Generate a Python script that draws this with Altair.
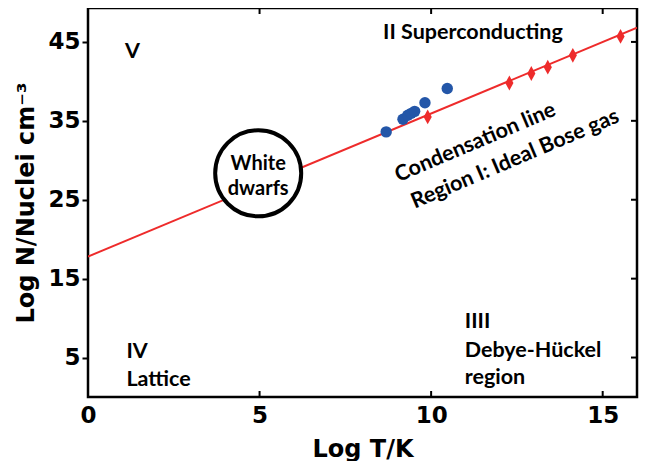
import altair as alt
import pandas as pd

# ---- data ----
line_x = [0.0, 16.0]
line_y = [17.8, 46.8]

diam_x = [9.90, 12.28, 12.92, 13.40, 14.13, 15.52]
diam_y = [35.5, 39.8, 41.0, 41.8, 43.3, 45.7]

dot_x = [8.69, 9.18, 9.32, 9.42, 9.52, 9.82, 10.47]
dot_y = [33.6, 35.2, 35.7, 35.95, 36.2, 37.3, 39.1]

wd_x = [4.96]
wd_y = [28.35]
wd_text = ["White", "dwarfs"]
wd_text_x = [4.96, 4.96]
wd_text_y = [28.8, 25.6]

region_text = ["V", "II Superconducting", "IV", "Lattice", "IIII", "Debye-Hückel", "region"]
region_x = [1.08, 8.60, 1.12, 1.12, 10.98, 10.98, 10.98]
region_y = [42.9, 45.4, 4.94, 1.39, 8.73, 5.06, 1.65]

rot_text = ["Condensation line", "Region I: Ideal Bose gas"]
rot_x = [11.36, 12.52]
rot_y = [31.5, 29.4]

x_ticks = [0, 5, 10, 15]
y_ticks = [5, 15, 25, 35, 45]
inner_x_ticks = [5, 10, 15]

W, H = 549, 389
RED = "#ee2b2b"
BLUE = "#2356a8"
LABEL_FONT = "Lato"
LABEL_SIZE = 21.5

xscale = alt.Scale(domain=[0, 16], nice=False, zero=False)
yscale = alt.Scale(domain=[0, 49.3], nice=False, zero=False)

x_axis = alt.Axis(
    values=x_ticks, ticks=False, tickSize=0, labelPadding=7, labelFlush=False,
    labelFont="DejaVu Sans", labelFontWeight="bold", labelFontSize=23, labelColor="black",
    domain=False, grid=False,
    title="Log T/K", titleFont="DejaVu Sans", titleFontWeight="bold", titleFontSize=24,
    titleColor="black", titleX=W / 2, titleY=59, titleAlign="center", titleBaseline="alphabetic",
)
y_axis = alt.Axis(
    values=y_ticks, tickSize=6, tickWidth=2, tickColor="black", labelPadding=2,
    labelFont="DejaVu Sans", labelFontWeight="bold", labelFontSize=23, labelColor="black",
    domain=False, grid=False,
    title="Log N/Nuclei cm⁻³", titleFont="DejaVu Sans", titleFontWeight="bold", titleFontSize=24,
    titleColor="black", titleX=-55, titleY=H / 2, titleAngle=270, titleAlign="center",
    titleBaseline="alphabetic",
)


def X():
    return alt.X("x:Q", scale=xscale, axis=x_axis)


def Y():
    return alt.Y("y:Q", scale=yscale, axis=y_axis)


line = alt.Chart(pd.DataFrame({"x": line_x, "y": line_y})).mark_line(
    color=RED, strokeWidth=2, clip=True
).encode(x=X(), y=Y())

diamonds = alt.Chart(pd.DataFrame({"x": diam_x, "y": diam_y})).mark_point(
    shape="M0,-1L0.55,0L0,1L-0.55,0Z", filled=True, color=RED, size=220, opacity=1
).encode(x=X(), y=Y())

dots = alt.Chart(pd.DataFrame({"x": dot_x, "y": dot_y})).mark_point(
    shape="circle", filled=True, color=BLUE, size=130, opacity=1
).encode(x=X(), y=Y())

circle = alt.Chart(pd.DataFrame({"x": wd_x, "y": wd_y})).mark_point(
    shape="circle", filled=False, fill="white", fillOpacity=1, stroke="black",
    strokeWidth=4, size=7400, opacity=1
).encode(x=X(), y=Y())

wd_labels = alt.Chart(pd.DataFrame({"x": wd_text_x, "y": wd_text_y, "t": wd_text})).mark_text(
    font=LABEL_FONT, fontWeight="bold", fontSize=20, color="black", align="center",
    baseline="alphabetic"
).encode(x=X(), y=Y(), text="t:N")

region_labels = alt.Chart(pd.DataFrame({"x": region_x, "y": region_y, "t": region_text})).mark_text(
    font=LABEL_FONT, fontWeight="bold", fontSize=LABEL_SIZE, color="black", align="left",
    baseline="alphabetic"
).encode(x=X(), y=Y(), text="t:N")

rot_labels = alt.Chart(pd.DataFrame({"x": rot_x, "y": rot_y, "t": rot_text})).mark_text(
    font=LABEL_FONT, fontWeight="bold", fontSize=LABEL_SIZE, color="black", align="center",
    baseline="alphabetic", angle=337
).encode(x=X(), y=Y(), text="t:N")

top_ticks = alt.Chart(pd.DataFrame({"x": inner_x_ticks})).mark_rule(
    color="black", strokeWidth=2
).encode(x=X(), y=alt.value(0), y2=alt.value(6))

bottom_ticks = alt.Chart(pd.DataFrame({"x": inner_x_ticks})).mark_rule(
    color="black", strokeWidth=2
).encode(x=X(), y=alt.value(H), y2=alt.value(H - 6))

right_ticks = alt.Chart(pd.DataFrame({"y": y_ticks})).mark_rule(
    color="black", strokeWidth=2
).encode(y=Y(), x=alt.value(W), x2=alt.value(W - 6))

chart = alt.layer(
    line, diamonds, dots, circle, wd_labels, region_labels, rot_labels,
    top_ticks, bottom_ticks, right_ticks
).properties(
    width=W, height=H,
    padding={"left": 80, "top": 0, "right": 4, "bottom": 64},
    autosize=alt.AutoSizeParams(type="none"),
    background="white",
).configure_view(
    stroke="black", strokeWidth=2.5
)

chart.save("out.html", embed_options={"renderer": "svg", "actions": False})
